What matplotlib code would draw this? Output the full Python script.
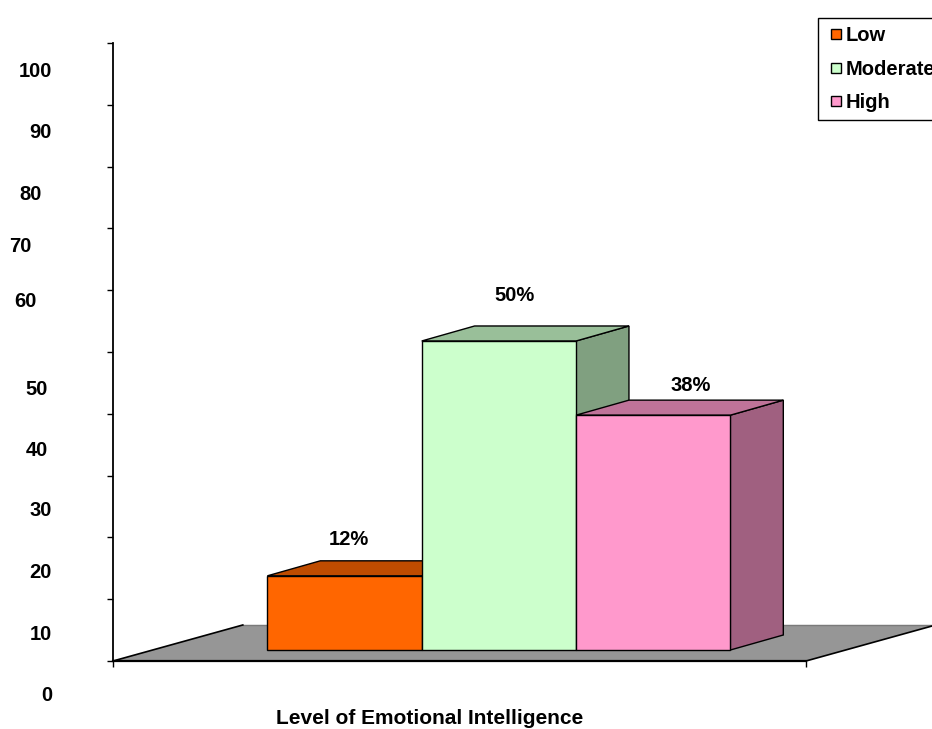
import matplotlib
matplotlib.use("Agg")
import matplotlib.pyplot as plt
from matplotlib.patches import Polygon, Rectangle
from matplotlib.lines import Line2D

plt.rcParams['font.family'] = ['Liberation Sans', 'DejaVu Sans']
plt.rcParams['font.weight'] = 'bold'

# ---- data ----
categories = ["Low", "Moderate", "High"]
values = [12, 50, 38]
value_labels = ["12%", "50%", "38%"]
ytick_values = [0, 10, 20, 30, 40, 50, 60, 70, 80, 90, 100]
ytick_labels = ["0", "10", "20", "30", "40", "50", "60", "70", "80", "90", "100"]
xlabel = "Level of Emotional Intelligence"

# ---- style ----
front_colors = ["#FF6600", "#CCFFCC", "#FF99CC"]
top_colors = ["#BF4C00", "#99BF99", "#BF7399"]
side_colors = ["#A04000", "#80A080", "#A06080"]
floor_color = "#969696"
fs = 14.5

W, H = 932, 729
fig = plt.figure(figsize=(W / 100, H / 100), dpi=100)
ax = fig.add_axes([113 / W, (H - 661) / H, (806 - 113) / W, (661 - 43) / H])
xlim = (-1.5, 2.99)
ax.set_xlim(*xlim)
ax.set_ylim(0, 100)

# depth geometry (data units)
bar_w = 1.0
bdx, bdy = 0.343, 2.43      # bar depth offset
fdx, fdy = 0.841, 5.83      # floor depth offset
base = 1.78                 # bar front base above floor front edge

# floor
floor = Polygon([(xlim[0], 0), (xlim[1], 0), (xlim[1] + fdx, fdy), (xlim[0] + fdx, fdy)],
                closed=True, facecolor=floor_color, edgecolor='none', clip_on=False, zorder=1)
ax.add_patch(floor)
ax.add_line(Line2D([xlim[0] + fdx, xlim[1] + fdx], [fdy, fdy], color="#7a7a7a", lw=1.0,
                   clip_on=False, zorder=1.5))
ax.add_line(Line2D([xlim[0], xlim[0] + fdx], [0, fdy], color="black", lw=1.2,
                   clip_on=False, zorder=1.6))
ax.add_line(Line2D([xlim[1], xlim[1] + fdx], [0, fdy], color="black", lw=1.2,
                   clip_on=False, zorder=1.6))

# bars (left to right so later ones occlude earlier side faces)
label_dx = [0.03, 0.10, 0.24]
label_dy = [7.7, 9.1, 6.5]
for i, (v, fc, tc, sc) in enumerate(zip(values, front_colors, top_colors, side_colors)):
    x0 = i - bar_w / 2
    x1 = i + bar_w / 2
    y0 = base
    y1 = base + v
    z = 2 + i
    side = Polygon([(x1, y0), (x1, y1), (x1 + bdx, y1 + bdy), (x1 + bdx, y0 + bdy)],
                   closed=True, facecolor=sc, edgecolor='black', lw=1.0, zorder=z, clip_on=False)
    top = Polygon([(x0, y1), (x1, y1), (x1 + bdx, y1 + bdy), (x0 + bdx, y1 + bdy)],
                  closed=True, facecolor=tc, edgecolor='black', lw=1.0, zorder=z, clip_on=False)
    front = Rectangle((x0, y0), bar_w, v, facecolor=fc, edgecolor='black', lw=1.0,
                      zorder=z + 0.1, clip_on=False)
    ax.add_patch(side)
    ax.add_patch(top)
    ax.add_patch(front)
    ax.text(i + label_dx[i], v + label_dy[i], value_labels[i], ha='center', va='center',
            fontsize=fs, fontweight='bold', zorder=10)

# axes styling
for s in ['top', 'right']:
    ax.spines[s].set_visible(False)
ax.spines['left'].set_linewidth(1.3)
ax.spines['bottom'].set_linewidth(1.6)
ax.spines['bottom'].set_zorder(5)
ax.set_yticks(ytick_values)
ax.set_yticklabels([])
ax.set_xticks(list(xlim))
ax.set_xticklabels([])
ax.tick_params(axis='both', direction='out', length=4.5, width=1.0, color='black')
ax.patch.set_alpha(0)

# y tick labels (placed as in the reference, slightly irregular)
ylab_right_px = [52, 52, 52, 52, 48, 48, 37, 31, 42, 52, 52]
ylab_center_px = [695.5, 634.5, 573, 511, 450, 389, 301.5, 247, 194, 133, 71.5]
for lab, xp, yp in zip(ytick_labels, ylab_right_px, ylab_center_px):
    fig.text(xp / W, 1 - yp / H, lab, ha='right', va='center', fontsize=14.5, fontweight='bold')

# x label
fig.text(430 / W, 1 - 718 / H, xlabel, ha='center', va='center', fontsize=15, fontweight='bold')

# legend (its right part runs past the figure edge, as in the reference)
handles = [Line2D([], [], marker='s', linestyle='none', markersize=6.5,
                  markerfacecolor=c, markeredgecolor='black', markeredgewidth=1.0)
           for c in front_colors]
leg = fig.legend(handles, categories, loc='upper left', bbox_to_anchor=(818 / W, 1 - 18 / H),
                 frameon=True, fancybox=False, edgecolor='black', framealpha=1,
                 prop={'size': fs, 'weight': 'bold'}, handlelength=0.95, handletextpad=0.0,
                 labelspacing=0.72, borderpad=0.4, borderaxespad=0)
leg.get_frame().set_linewidth(1.0)

fig.savefig("out.png", dpi=100)
